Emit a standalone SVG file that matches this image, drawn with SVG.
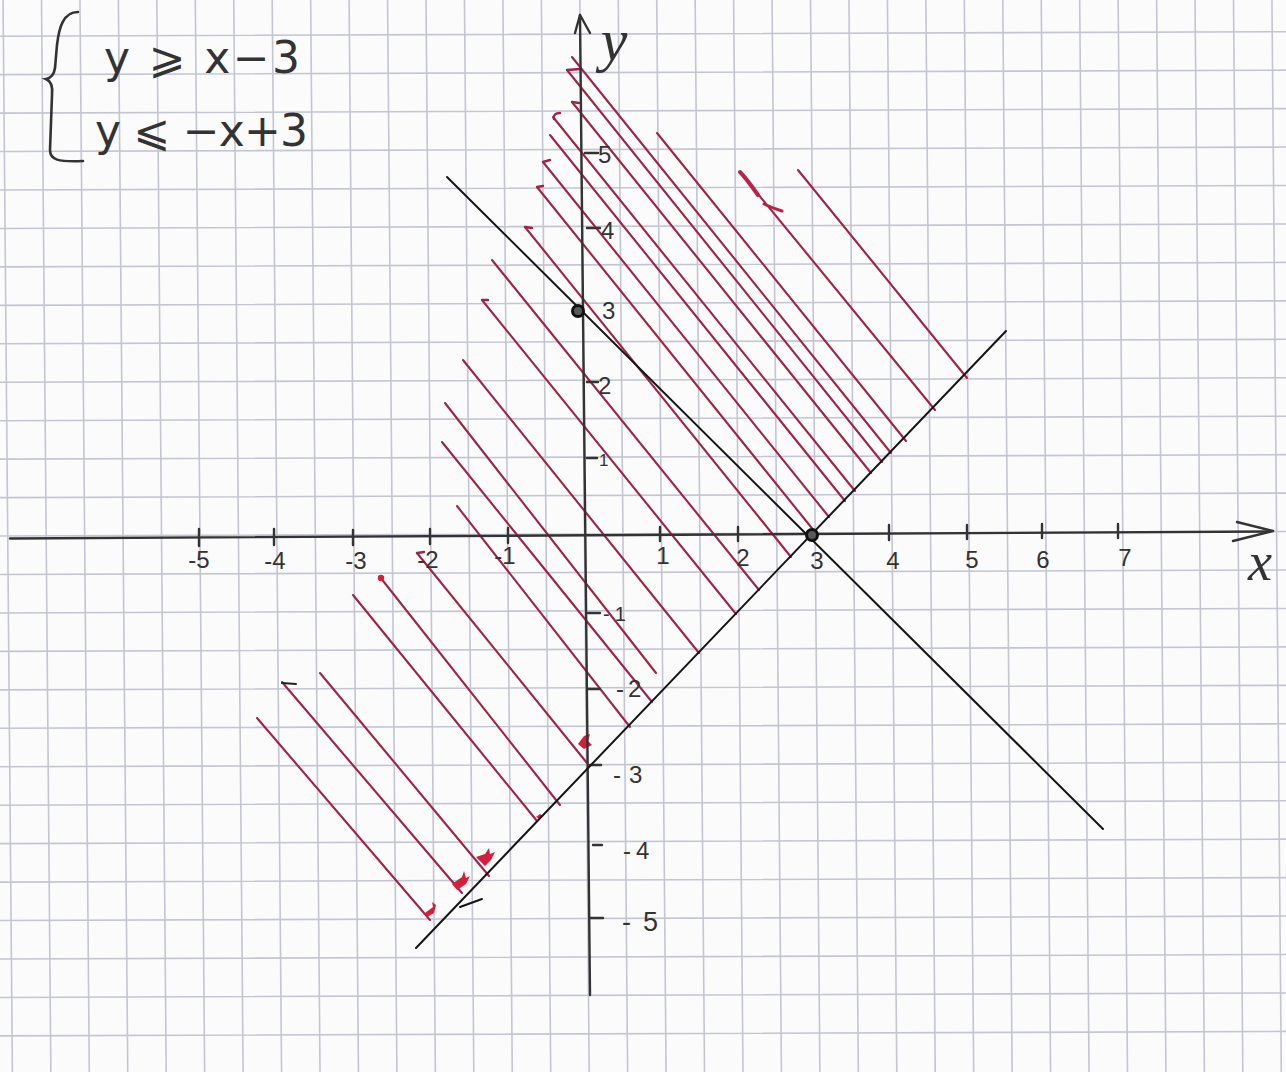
<svg xmlns="http://www.w3.org/2000/svg" width="1286" height="1072" viewBox="0 0 1286 1072">
<style>
.g{stroke:#c3c6d1;stroke-width:1.6;fill:none}
.ax{stroke:#333;stroke-width:2.4;fill:none;stroke-linecap:round;stroke-linejoin:round}
.bl{stroke:#151515;stroke-width:2;fill:none;stroke-linecap:round}
.h{stroke:#9e2447;stroke-width:2.1;fill:none;stroke-linecap:round}
.hk{stroke:#9e2447;stroke-width:2.4;fill:none;stroke-linecap:round}
.blob{fill:#d41f3c}
.t{font-family:"Liberation Sans",Arial,sans-serif;font-size:24px;fill:#333}
.ty{font-family:"Liberation Sans",Arial,sans-serif;font-size:24px;fill:#333}
.eq{font-family:"DejaVu Sans","Liberation Sans",sans-serif;font-size:44px;fill:#333}
.lab{font-family:"Liberation Serif","Times New Roman",serif;font-style:italic;fill:#333}
.pt{fill:#5a5a5a;stroke:#111;stroke-width:3}
</style>
<rect width="1286" height="1072" fill="#fbfbfb"/>
<g id="grid">
<g transform="rotate(-0.5 584.5 537)" class="g">
<path d="M7.75 -60V1130M46.2 -60V1130M84.65 -60V1130M123.1 -60V1130M161.55 -60V1130M200 -60V1130M238.45 -60V1130M276.9 -60V1130M315.35 -60V1130M353.8 -60V1130M392.25 -60V1130M430.7 -60V1130M469.15 -60V1130M507.6 -60V1130M546.05 -60V1130M584.5 -60V1130M622.95 -60V1130M661.4 -60V1130M699.85 -60V1130M738.3 -60V1130M776.75 -60V1130M815.2 -60V1130M853.65 -60V1130M892.1 -60V1130M930.55 -60V1130M969 -60V1130M1007.45 -60V1130M1045.9 -60V1130M1084.35 -60V1130M1122.8 -60V1130M1161.25 -60V1130M1199.7 -60V1130M1238.15 -60V1130M1276.6 -60V1130"/>
</g>
<g transform="rotate(-0.2 585 534)" class="g">
<path d="M-60 34.15H1350M-60 72.6H1350M-60 111.05H1350M-60 149.5H1350M-60 187.95H1350M-60 226.4H1350M-60 264.85H1350M-60 303.3H1350M-60 341.75H1350M-60 380.2H1350M-60 418.65H1350M-60 457.1H1350M-60 495.55H1350M-60 534H1350M-60 572.45H1350M-60 610.9H1350M-60 649.35H1350M-60 687.8H1350M-60 726.25H1350M-60 764.7H1350M-60 803.15H1350M-60 841.6H1350M-60 880.05H1350M-60 918.5H1350M-60 956.95H1350M-60 995.4H1350M-60 1033.85H1350"/>
</g>
</g>

<g id="hatching">
<path class="h" d="M798 170L967 378"/>
<path class="h" d="M740 172L935 410"/>
<path d="M740 172Q746 178 758 195" stroke="#b8234a" stroke-width="4" fill="none" stroke-linecap="round"/>
<path d="M764 204Q772 208 782 211" stroke="#b8234a" stroke-width="3" fill="none" stroke-linecap="round"/>
<path class="h" d="M657 133L906 441"/>
<path class="h" d="M572 57L891 453"/>
<path class="h" d="M567 70L882 462"/>
<path class="h" d="M572 102L871 473"/>
<path class="h" d="M553 117L855 491"/>
<path class="h" d="M550 135L845 501"/>
<path class="h" d="M543 162L829 517"/>
<path class="h" d="M537 187L815 532"/>
<path class="h" d="M525 227L791 557"/>
<path class="h" d="M492 260L759 590"/>
<path class="h" d="M482 300L736 614"/>
<path class="h" d="M463 360L699 653"/>
<path class="h" d="M445 403L656 673"/>
<path class="h" d="M442 442L652 702"/>
<path class="h" d="M457 506L630 727"/>
<path class="h" d="M417 553L587 763"/>
<path class="h" d="M380 577L560 805"/>
<path class="h" d="M353 595L537 821"/>
<path class="h" d="M320 673L489 876"/>
<path class="h" d="M282 682L462 893"/>
<path class="h" d="M257 718L430 920"/>
<path class="hk" d="M567 70L580 69M572 102L579 103M560 113Q553 113 554 119M543 162L550 160M537 187L543 186M525 227L532 228M482 300L488 300M417 553L424 552"/>
<path d="M282 683L296 684" stroke="#222" stroke-width="2" stroke-linecap="round"/>
<circle class="blob" cx="381" cy="578" r="3.2"/>
<path class="blob" d="M425 913l8 -6l-1 -5l4 3l-2 8l-7 4z"/>
<path class="blob" d="M452 884l10 -7l2 -6l2 7l4 -2l-4 8l-9 6z"/>
<path class="blob" d="M476 857l9 -3l4 -6l1 6l5 -2l-4 8l-6 6z"/>
<path class="blob" d="M578 744l6 -8l6 -2l-2 7l4 4l-8 4z"/>
<path class="blob" d="M536 817l4 -3l3 2l-3 3z"/>
</g>

<g id="axes">
<path class="ax" d="M10 538.5L1270 531.5"/>
<path class="ax" d="M1237 522L1273 531L1233 541"/>
<path class="ax" d="M580 15L590 995"/>
<path class="ax" d="M575 33L580 15L590 33"/>
<path class="ax" d="M199 529V546M274 529V545M353 530V545M430 529V544M508 528V543M660 527V541M738 527V541M889 525V540M967 525V539M1042 524V538M1118 524V538"/>
<path class="ax" d="M585 153H598M587 228H600M587 382H598M587 458H597M588 613H600M588 689H600M590 765H601M593 845H602M590 918H603"/>
</g>

<g id="lines">
<path class="bl" d="M447 177L1103 829"/>
<path class="bl" d="M416 948L1006 331"/>
<path class="bl" d="M460 907L482 899"/>
</g>

<g id="points">
<circle class="pt" cx="578" cy="311" r="5.5"/>
<circle class="pt" cx="812" cy="535" r="5.5"/>
</g>

<g id="labels">
<g class="t" text-anchor="middle">
<text x="199" y="568">-5</text>
<text x="275" y="569">-4</text>
<text x="356" y="569">-3</text>
<text x="428" y="568">-2</text>
<text x="505" y="564">-1</text>
<text x="663" y="564">1</text>
<text x="743" y="566">2</text>
<text x="817" y="569">3</text>
<text x="893" y="569">4</text>
<text x="972" y="568">5</text>
<text x="1043" y="568">6</text>
<text x="1125" y="566">7</text>
</g>
<g class="ty">
<text x="598" y="163">5</text>
<text x="601" y="239">4</text>
<text x="602" y="319">3</text>
<text x="598" y="394">2</text>
<text x="599" y="466" font-size="17">1</text>
<text x="603" y="621" font-size="20">-<tspan dx="5">1</tspan></text>
<text x="616" y="697">-<tspan dx="4">2</tspan></text>
<text x="613" y="783">-<tspan dx="8">3</tspan></text>
<text x="623" y="859">-<tspan dx="5">4</tspan></text>
<text x="622" y="931" font-size="27">-<tspan dx="12">5</tspan></text>
</g>
<text class="lab" x="1260" y="580" font-size="54" text-anchor="middle">x</text>
<text class="lab" x="614" y="60" font-size="60" text-anchor="middle">y</text>
</g>

<g id="system">
<path d="M78 12C63 12 59 28 57 45L55 68C54 75 51 78 46 79C51 81 53 86 52 95L50 150C50 160 58 162 83 161" stroke="#333" stroke-width="2.6" fill="none" stroke-linecap="round"/>
<text class="eq" x="104" y="73" textLength="196" lengthAdjust="spacing">y ⩾ x−3</text>
<text class="eq" x="95" y="146" textLength="213" lengthAdjust="spacing">y ⩽ −x+3</text>
</g>
</svg>
